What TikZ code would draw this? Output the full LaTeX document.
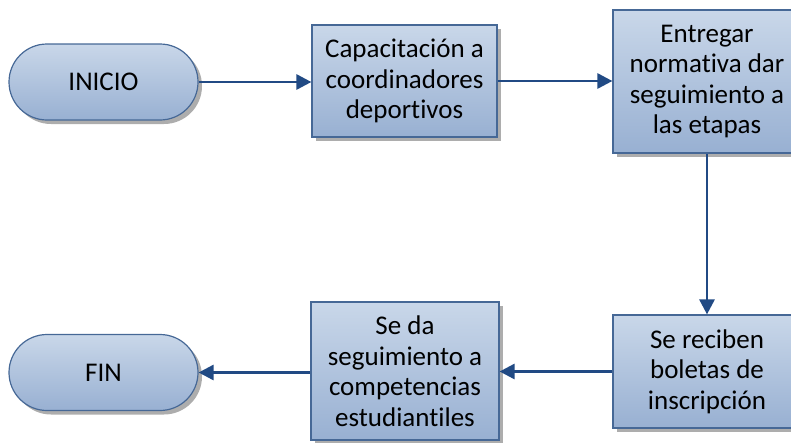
\documentclass[tikz,border=0pt]{standalone}
\usepackage{fontspec}
\setmainfont[Ligatures={NoCommon}]{Carlito}
\usetikzlibrary{arrows.meta,shadows}
\definecolor{fillTop}{RGB}{201,215,233}
\definecolor{fillBot}{RGB}{152,176,210}
\definecolor{edgeC}{RGB}{70,104,150}
\definecolor{arrowC}{RGB}{33,74,132}
\tikzset{
  base/.style={draw=edgeC, line width=1.2pt, top color=fillTop, bottom color=fillBot,
    align=center, inner sep=2pt, text=black,
    font=\fontsize{27}{30.5}\selectfont,
    drop shadow={shadow xshift=4pt, shadow yshift=-4pt, fill=black!40, opacity=0.8}},
  procbox/.style={base, rectangle},
  termbox/.style={base, rectangle, rounded corners=38pt, minimum width=189pt, minimum height=76pt},
  flow/.style={draw=arrowC, line width=2.8pt, -{Triangle[length=15pt,width=15pt]}}
}
\begin{document}
\begin{tikzpicture}[x=1pt,y=-1pt]
\useasboundingbox (0,0) rectangle (791,442);
\node[termbox] (ini) at (103.5,82) {INICIO};
\node[procbox, minimum width=185pt, minimum height=112pt] (b1) at (404.5,81) {Capacitación a\\coordinadores\\deportivos};
\node[procbox, minimum width=188pt, minimum height=143pt] (b2) at (707,81.5) {Entregar\\normativa dar\\seguimiento a\\las etapas};
\node[procbox, minimum width=188pt, minimum height=113pt] (b3) at (707,371.5) {Se reciben\\boletas de\\inscripción};
\node[procbox, minimum width=188pt, minimum height=138pt] (b4) at (405,371) {Se da\\seguimiento a\\competencias\\estudiantiles};
\node[termbox] (fin) at (103.5,372.5) {FIN};
\draw[flow] (ini.east) -- (b1.west |- ini.east);
\draw[flow] (b1.east) -- (b2.west |- b1.east);
\draw[flow] (b2.south) -- (b3.north);
\draw[flow] (b3.west) -- (b4.east |- b3.west);
\draw[flow] (b4.west |- fin.east) -- (fin.east);
\end{tikzpicture}
\end{document}
